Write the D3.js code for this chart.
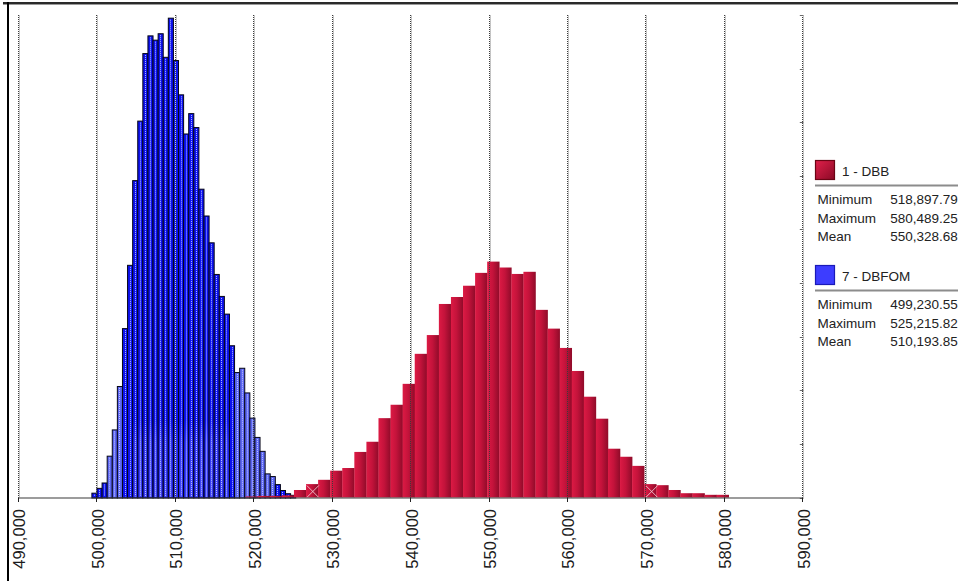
<!DOCTYPE html>
<html>
<head>
<meta charset="utf-8">
<script src="https://cdn.jsdelivr.net/npm/d3@7"></script>
<style>
  html, body { margin: 0; padding: 0; background: #fff; }
  svg { display: block; font-family: "Liberation Sans", Arial, sans-serif; }
</style>
</head>
<body>
<svg id="chart" width="958" height="581"></svg>
<script>
// ---- data -------------------------------------------------------------
// Horizontal axis ticks (cost values)
const xTickValues = [490000, 500000, 510000, 520000, 530000, 540000,
                     550000, 560000, 570000, 580000, 590000];

// Series shown in the legend
const seriesNames = ["1 - DBB", "7 - DBFOM"];
const seriesMin   = [518897.79, 499230.55];
const seriesMax   = [580489.25, 525215.82];
const seriesMean  = [550328.68, 510193.85];

// Probability density per bin (x 1e-5), 40 equal bins from min to max
const dbbDensity = [0.02, 0.03, 0.03, 0.04, 0.14, 0.25, 0.33, 0.50, 0.55, 0.85,
                    1.04, 1.48, 1.73, 2.12, 2.68, 3.03, 3.61, 3.74, 3.95, 4.19,
                    4.40, 4.29, 4.17, 4.21, 3.50, 3.15, 2.79, 2.36, 1.88, 1.47,
                    0.91, 0.76, 0.59, 0.25, 0.23, 0.14, 0.08, 0.08, 0.05, 0.05];
const dbfomDensity = [0.09, 0.18, 0.28, 0.78, 1.27, 2.08, 3.16, 4.34, 5.92, 7.03,
                      8.29, 8.62, 8.54, 8.66, 8.22, 8.95, 8.16, 7.52, 6.79, 7.17,
                      6.91, 5.76, 5.26, 4.76, 4.17, 3.76, 3.43, 2.84, 2.34, 2.42,
                      1.96, 1.49, 1.13, 0.87, 0.45, 0.40, 0.25, 0.14, 0.08, 0.05];

// Percentile markers drawn on the DBB distribution
const dbbMarkers = [527460, 570670];

// y-axis ticks (density x 1e-5), unlabeled
const yTickValues = d3.range(0, 10);

// ---- layout & scales ---------------------------------------------------
const plot = { left: 19, right: 803.3, top: 15, bottom: 497.5 };
const x = d3.scaleLinear().domain([490000, 590000]).range([plot.left, plot.right]);
const y = d3.scaleLinear().domain([0, 9]).range([plot.bottom, plot.top]);

const svg = d3.select("#chart");
const defs = svg.append("defs");

// crimson bar shading, bright on the left, deep on the right
const rg = defs.append("linearGradient").attr("id", "redBar")
  .attr("x1", 0).attr("x2", 1).attr("y1", 0).attr("y2", 0);
rg.append("stop").attr("offset", 0).attr("stop-color", "#dc1a44");
rg.append("stop").attr("offset", 0.45).attr("stop-color", "#c4133b");
rg.append("stop").attr("offset", 1).attr("stop-color", "#8f0b29");

const rs = defs.append("linearGradient").attr("id", "redSwatch")
  .attr("x1", 0).attr("x2", 1).attr("y1", 0).attr("y2", 1);
rs.append("stop").attr("offset", 0).attr("stop-color", "#e0204a");
rs.append("stop").attr("offset", 1).attr("stop-color", "#8a0a26");

const haze = defs.append("linearGradient").attr("id", "haze")
  .attr("x1", 0).attr("x2", 0).attr("y1", 0).attr("y2", 1);
haze.append("stop").attr("offset", 0).attr("stop-color", "#fff").attr("stop-opacity", 0.0);
haze.append("stop").attr("offset", 0.3).attr("stop-color", "#fff").attr("stop-opacity", 0.16);
haze.append("stop").attr("offset", 1).attr("stop-color", "#fff").attr("stop-opacity", 0.2);

// ---- outer frame ---------------------------------------------------------
svg.append("line").attr("x1", 3).attr("x2", 958).attr("y1", 3).attr("y2", 3)
  .attr("stroke", "#2a2a2a").attr("stroke-width", 2);
svg.append("line").attr("x1", 3).attr("x2", 958).attr("y1", 4.5).attr("y2", 4.5)
  .attr("stroke", "#9a9a9a").attr("stroke-width", 1);
svg.append("line").attr("x1", 8).attr("x2", 8).attr("y1", 2).attr("y2", 581)
  .attr("stroke", "#000").attr("stroke-width", 2);

// ---- bins ---------------------------------------------------------------
function makeBins(min, max, dens) {
  const w = (max - min) / dens.length;
  return dens.map((d, k) => ({ k, x0: min + k * w, x1: min + (k + 1) * w, d }));
}
const blueBins = makeBins(seriesMin[1], seriesMax[1], dbfomDensity);
const redBins  = makeBins(seriesMin[0], seriesMax[0], dbbDensity);

// bins of the DBFOM histogram rendered in the paler tone
const paleBins = new Set([3, 4, 5, 28, 29, 30, 31, 32, 33, 34, 35]);

// ---- grid underlay -------------------------------------------------------
const gridBack = svg.append("g");
gridBack.selectAll("line").data(xTickValues).join("line")
  .attr("x1", d => Math.round(x(d)) + 0.5).attr("x2", d => Math.round(x(d)) + 0.5)
  .attr("y1", plot.top).attr("y2", plot.bottom)
  .attr("stroke", "#c4c4c4").attr("stroke-width", 1);

// ---- DBFOM (blue) bars ---------------------------------------------------
const blueG = svg.append("g");
blueG.selectAll("rect.bar").data(blueBins).join("rect")
  .attr("class", "bar")
  .attr("x", b => x(b.x0) + 0.5)
  .attr("y", b => y(b.d) + 0.5)
  .attr("width", b => x(b.x1) - x(b.x0))
  .attr("height", b => y(0) - y(b.d))
  .attr("fill", b => paleBins.has(b.k) ? "#5c66f2" : "#0d12ee")
  .attr("stroke", "#060616").attr("stroke-width", 1);

// dotted highlight column in each bar
blueG.selectAll("line.dots").data(blueBins.filter(b => y(0) - y(b.d) > 3)).join("line")
  .attr("class", "dots")
  .attr("x1", b => Math.round((x(b.x0) + x(b.x1)) / 2) + 0.5)
  .attr("x2", b => Math.round((x(b.x0) + x(b.x1)) / 2) + 0.5)
  .attr("y1", b => y(b.d) + 2).attr("y2", y(0) - 1)
  .attr("stroke", b => paleBins.has(b.k) ? "#c2c8ff" : "#b9c2ff")
  .attr("stroke-width", 1).attr("stroke-dasharray", "1 1");

// pale sheen over the lower part of the central bars
const hazeTop = 1.45;
blueG.selectAll("rect.haze").data(blueBins.filter(b => b.k >= 8 && b.k <= 26)).join("rect")
  .attr("class", "haze")
  .attr("x", b => x(b.x0) + 1.5)
  .attr("y", b => y(Math.min(b.d, hazeTop)))
  .attr("width", b => x(b.x1) - x(b.x0) - 2)
  .attr("height", b => y(0) - y(Math.min(b.d, hazeTop)) - 0.5)
  .attr("fill", "url(#haze)");

// ---- DBB (red) bars -------------------------------------------------------
const redG = svg.append("g");
redG.selectAll("rect").data(redBins).join("rect")
  .attr("x", b => x(b.x0))
  .attr("y", b => y(b.d))
  .attr("width", b => x(b.x1) - x(b.x0) + 0.3)
  .attr("height", b => y(0) - y(b.d))
  .attr("fill", "url(#redBar)");

// percentile crosses
const cross = redG.selectAll("g.cross").data(dbbMarkers).join("g")
  .attr("class", "cross")
  .attr("transform", d => `translate(${x(d)},${y(0) - 6})`);
cross.append("line").attr("x1", -6).attr("y1", -6).attr("x2", 6).attr("y2", 6);
cross.append("line").attr("x1", -6).attr("y1", 6).attr("x2", 6).attr("y2", -6);
cross.selectAll("line").attr("stroke", "#f4d0d8").attr("stroke-width", 1).attr("opacity", 0.85);

// ---- dotted grid on top ---------------------------------------------------
const gridFront = svg.append("g");
gridFront.selectAll("line").data(xTickValues).join("line")
  .attr("x1", d => Math.round(x(d)) - 0.5).attr("x2", d => Math.round(x(d)) - 0.5)
  .attr("y1", plot.top).attr("y2", plot.bottom)
  .attr("stroke", "#3c3c3c").attr("stroke-width", 1).attr("stroke-dasharray", "1 1");

// ---- axes -------------------------------------------------------------------
// right-hand density ticks
svg.append("g").selectAll("line").data(yTickValues).join("line")
  .attr("x1", plot.right - 3.5).attr("x2", plot.right)
  .attr("y1", d => Math.round(y(d)) + 0.5).attr("y2", d => Math.round(y(d)) + 0.5)
  .attr("stroke", "#6a6a6a").attr("stroke-width", 1);

// baseline
svg.append("line").attr("x1", plot.left - 1).attr("x2", plot.right)
  .attr("y1", plot.bottom + 0.5).attr("y2", plot.bottom + 0.5)
  .attr("stroke", "#3a3a3a").attr("stroke-width", 1.2);

const xAxis = svg.append("g");
xAxis.selectAll("line").data(xTickValues).join("line")
  .attr("x1", d => Math.round(x(d)) - 0.5).attr("x2", d => Math.round(x(d)) - 0.5)
  .attr("y1", plot.bottom).attr("y2", plot.bottom + 4.5)
  .attr("stroke", "#222").attr("stroke-width", 1);

const fmt = d3.format(",");
xAxis.selectAll("text").data(xTickValues).join("text")
  .attr("transform", d => `translate(${x(d) + 0.5},509) rotate(-90)`)
  .attr("text-anchor", "end")
  .attr("dy", "0.36em")
  .attr("font-size", "16.5px")
  .attr("fill", "#1c1c1c")
  .text(d => fmt(d));

// ---- legend ----------------------------------------------------------------
const legendTop = [160.5, 265.5];
const swatchFill = ["url(#redSwatch)", "#3d3dff"];
const swatchStroke = ["#6a0414", "#1a1ab8"];
const statLabels = ["Minimum", "Maximum", "Mean"];
const fmt2 = d3.format(",.2f");

seriesNames.forEach((name, i) => {
  const g = svg.append("g").attr("transform", `translate(0,${legendTop[i]})`);
  g.append("rect").attr("x", 815.5).attr("y", 0).attr("width", 19).attr("height", 19)
    .attr("fill", swatchFill[i]).attr("stroke", swatchStroke[i]).attr("stroke-width", 1.2);
  g.append("text").attr("x", 842).attr("y", 15.5)
    .attr("font-size", "13.5px").attr("fill", "#222").text(name);
  g.append("line").attr("x1", 815).attr("x2", 958).attr("y1", 25).attr("y2", 25)
    .attr("stroke", "#8c8c8c").attr("stroke-width", 2);
  const vals = [seriesMin[i], seriesMax[i], seriesMean[i]];
  statLabels.forEach((lab, j) => {
    const yy = 43.5 + j * 18.5;
    g.append("text").attr("x", 817.5).attr("y", yy)
      .attr("font-size", "13.5px").attr("fill", "#222").text(lab);
    g.append("text").attr("x", 957.8).attr("y", yy).attr("text-anchor", "end")
      .attr("font-size", "13.5px").attr("fill", "#222").text(fmt2(vals[j]));
  });
});
</script>
</body>
</html>
